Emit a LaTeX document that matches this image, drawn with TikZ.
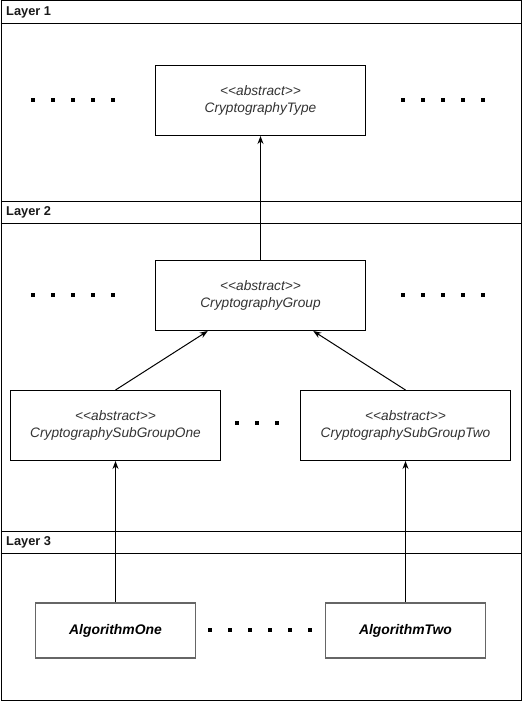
\documentclass[tikz,border=0pt]{standalone}
\usepackage{fontspec}
\setmainfont{Liberation Sans}
\usetikzlibrary{arrows.meta,calc}
\definecolor{txt}{HTML}{333333}
\definecolor{algo}{HTML}{666666}
\tikzset{
  x=1pt, y=-1pt,
  lane/.style={draw=black, line width=1pt},
  lanelabel/.style={anchor=west, inner sep=0pt, font=\fontsize{12.8}{14}\selectfont\bfseries, text=black!90},
  absbox/.style={draw=black, line width=1pt, fill=white, minimum width=210pt, minimum height=70pt,
     align=center, inner sep=0pt, font=\fontsize{13.7}{16.5}\selectfont\itshape, text=txt},
  algbox/.style={draw=algo, line width=1.3pt, fill=white, minimum width=160pt, minimum height=55pt,
     align=center, inner sep=0pt, font=\fontsize{13.9}{16}\selectfont\bfseries\itshape, text=black},
  inherit/.style={draw=black, line width=1pt, -{Stealth[length=8pt,width=6pt]}}
}
\newcommand{\dotrow}[3]{% x0, y, count
  \foreach \i in {1,...,#3} {\fill (#1+20*\i-20-2.2,#2-2.2) rectangle ++(4.4,4.4);}}
\begin{document}
\begin{tikzpicture}
\useasboundingbox (0,0) rectangle (522,701);
\fill[white] (0,0) rectangle (522,701);
% layers
\node[lane, minimum width=520pt, minimum height=200pt, inner sep=0pt, anchor=north west] (L1) at (0.5,0.5) {};
\node[lane, minimum width=520pt, minimum height=330pt, inner sep=0pt, anchor=north west] (L2) at (0.5,200.5) {};
\node[lane, minimum width=520pt, minimum height=169pt, inner sep=0pt, anchor=north west] (L3) at (0.5,530.5) {};
\draw[lane] (0.5,23.5) -- (520.5,23.5);
\draw[lane] (0.5,223.5) -- (520.5,223.5);
\draw[lane] (0.5,553.5) -- (520.5,553.5);
\node[lanelabel] (t1) at (6,12.5) {Layer 1};
\node[lanelabel] (t2) at (6,212.5) {Layer 2};
\node[lanelabel] (t3) at (6,542.5) {Layer 3};
% classes
\node[absbox] (type) at (260.5,100.5) {<{}<abstract>{}>\\CryptographyType};
\node[absbox] (group) at (260.5,295.5) {<{}<abstract>{}>\\CryptographyGroup};
\node[absbox] (sub1) at (115.5,425.5) {<{}<abstract>{}>\\CryptographySubGroupOne};
\node[absbox] (sub2) at (405.5,425.5) {<{}<abstract>{}>\\CryptographySubGroupTwo};
\node[algbox] (alg1) at (115.5,630.5) {AlgorithmOne};
\node[algbox] (alg2) at (405.5,630.5) {AlgorithmTwo};
% dots
\dotrow{33}{100}{5}
\dotrow{403}{100}{5}
\dotrow{33}{295}{5}
\dotrow{403}{295}{5}
\dotrow{237}{423}{3}
\dotrow{210}{630}{6}
% connectors
\draw[inherit] (group.north) -- (type.south);
\draw[inherit] (sub1.north) -- ($(group.south west)!0.25!(group.south east)$);
\draw[inherit] (sub2.north) -- ($(group.south west)!0.75!(group.south east)$);
\draw[inherit] (alg1.north) -- (sub1.south);
\draw[inherit] (alg2.north) -- (sub2.south);
\end{tikzpicture}
\end{document}
